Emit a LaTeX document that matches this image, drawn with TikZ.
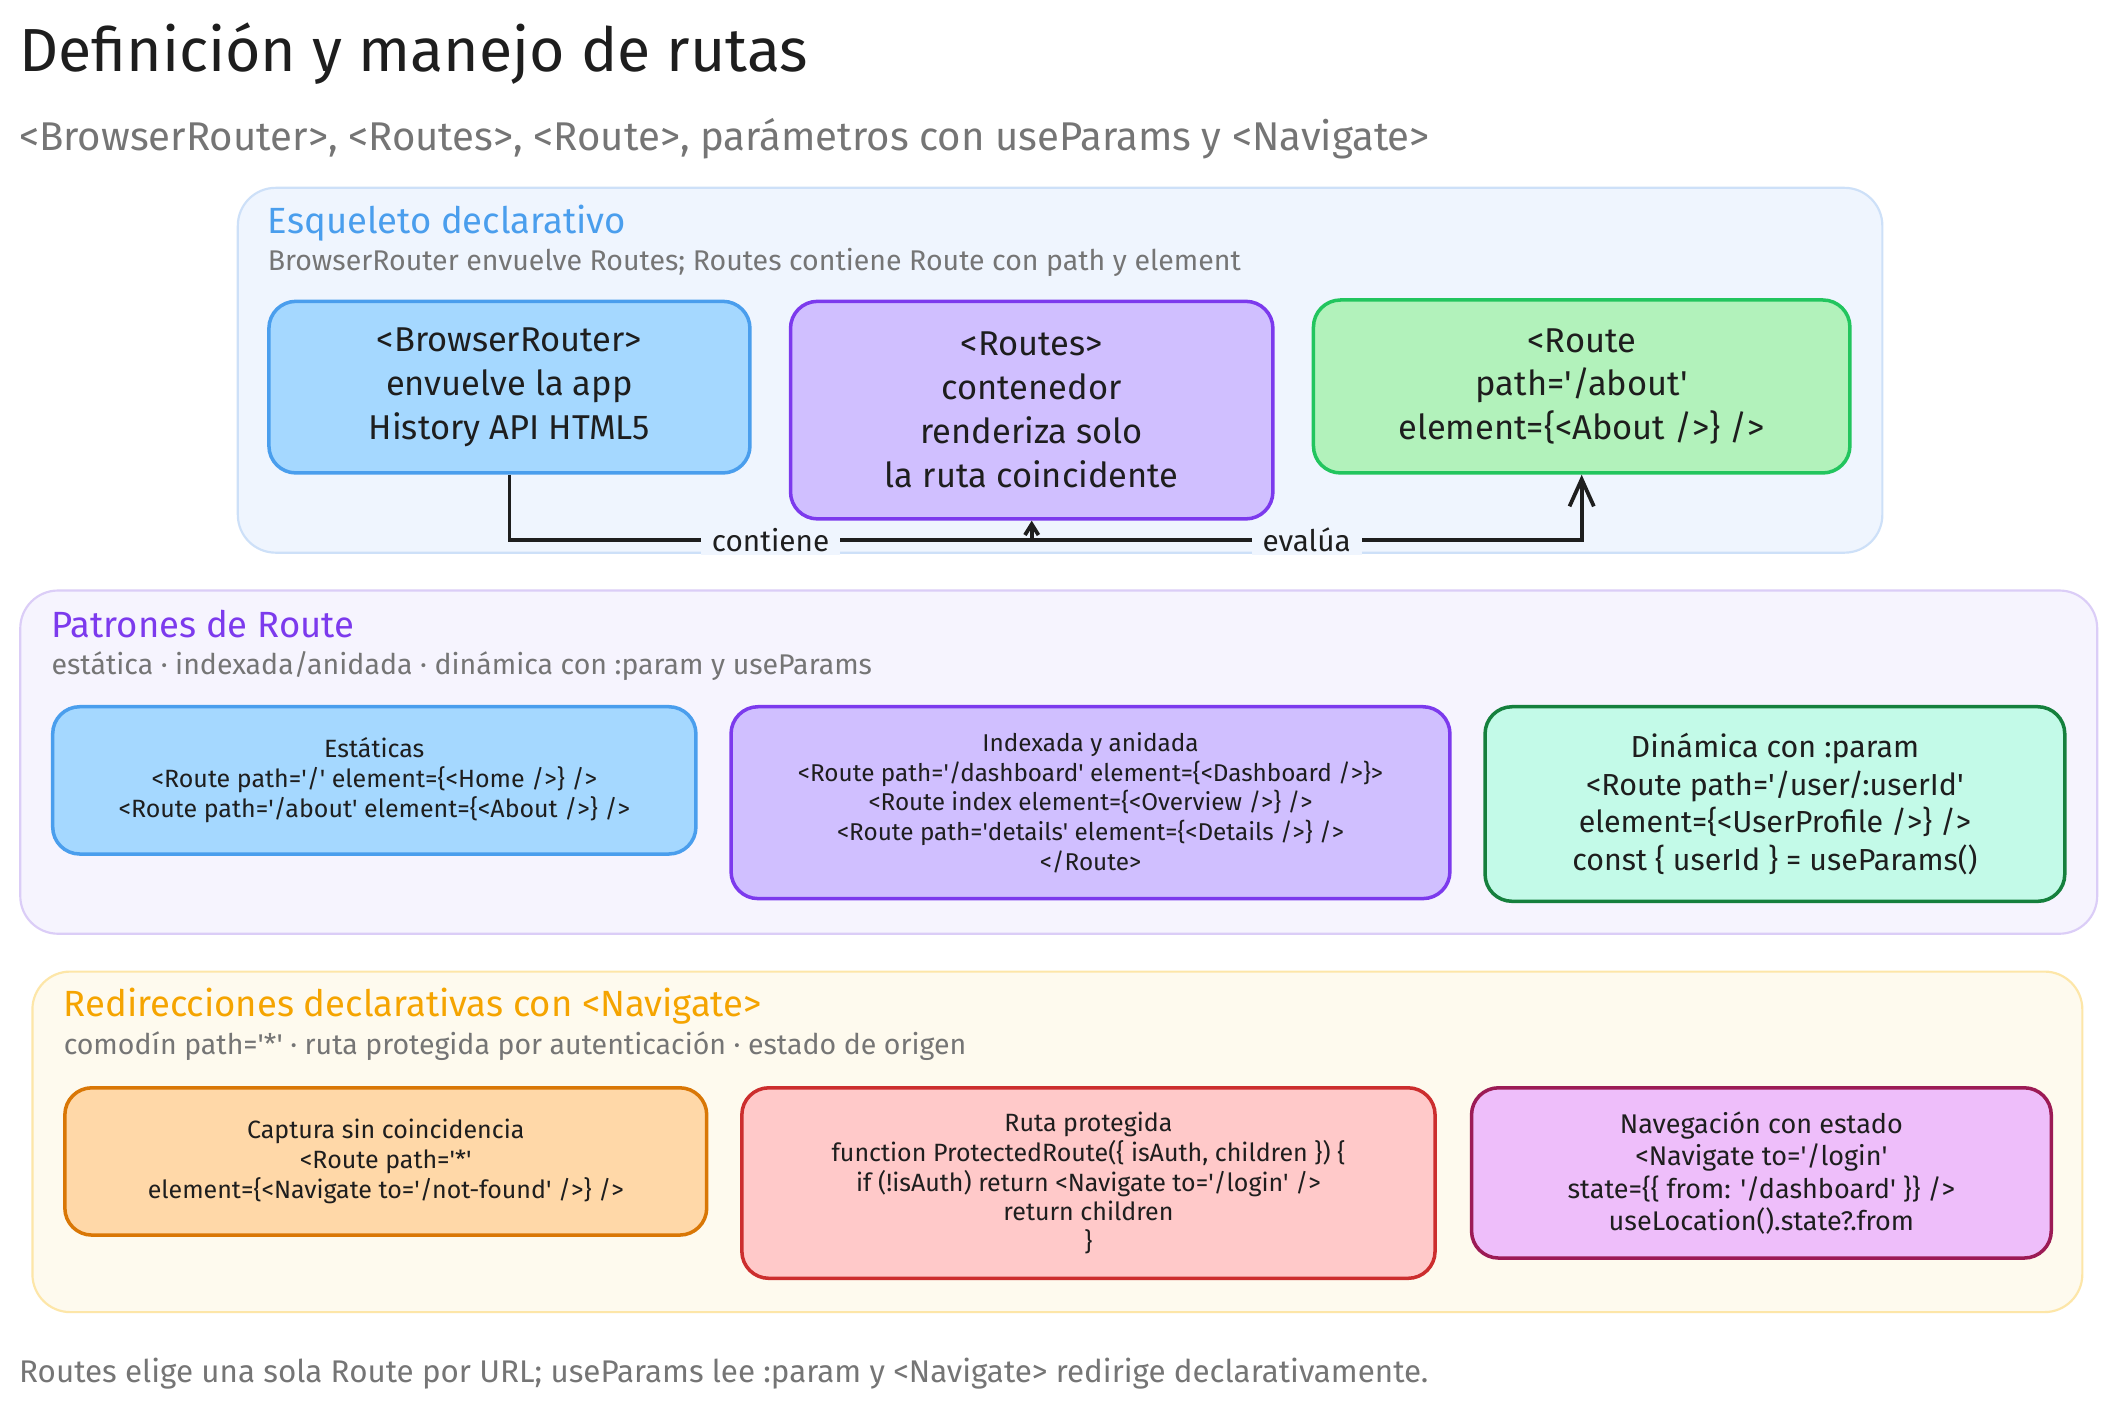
\documentclass[tikz,border=0pt]{standalone}
\usepackage{fontspec}
\setmainfont{Fira Sans}
\usetikzlibrary{arrows.meta,calc}
\newcommand{\sq}{\textquotesingle}
\definecolor{ink}{HTML}{1E1E1E}
\definecolor{muted}{HTML}{757575}
\definecolor{pOneFill}{HTML}{EFF5FE}
\definecolor{pOneLine}{HTML}{CDE0F8}
\definecolor{pTwoFill}{HTML}{F6F4FE}
\definecolor{pTwoLine}{HTML}{DBCDF7}
\definecolor{pThreeFill}{HTML}{FEFAEE}
\definecolor{pThreeLine}{HTML}{FDE6A8}
\definecolor{tBlue}{HTML}{4A9EED}
\definecolor{tPurple}{HTML}{7C3AED}
\definecolor{tOrange}{HTML}{F5A400}
\definecolor{blueFill}{HTML}{A5D8FF}
\definecolor{blueLine}{HTML}{4A9EED}
\definecolor{violetFill}{HTML}{D0BFFF}
\definecolor{violetLine}{HTML}{7C3AED}
\definecolor{greenFill}{HTML}{B2F2BB}
\definecolor{greenLine}{HTML}{22C55E}
\definecolor{mintFill}{HTML}{C3FAE8}
\definecolor{mintLine}{HTML}{15803D}
\definecolor{orangeFill}{HTML}{FFD8A8}
\definecolor{orangeLine}{HTML}{D97706}
\definecolor{redFill}{HTML}{FFC9C9}
\definecolor{redLine}{HTML}{CC2E2E}
\definecolor{pinkFill}{HTML}{EEBEFA}
\definecolor{pinkLine}{HTML}{9C1B55}
\tikzset{
  panelbox/.style={line width=1.6pt, rounded corners=28pt, inner sep=0pt},
  card/.style={line width=2.6pt, rounded corners=20pt, align=center, text=ink, inner sep=0pt},
  bigtxt/.style={font=\fontsize{25.5pt}{32.5pt}\selectfont},
  smalltxt/.style={font=\fontsize{18.5pt}{22pt}\selectfont},
  nesttxt/.style={font=\fontsize{18pt}{22pt}\selectfont},
  midtxt/.style={font=\fontsize{22.5pt}{28pt}\selectfont},
  navtxt/.style={font=\fontsize{20pt}{24pt}\selectfont},
  ptitle/.style={anchor=base west, inner sep=0pt, font=\fontsize{27pt}{32pt}\selectfont},
  psub/.style={anchor=base west, inner sep=0pt, text=muted, font=\fontsize{21.1pt}{26pt}\selectfont},
  conn/.style={draw=ink, line width=2.8pt},
  lbl/.style={fill=pOneFill, text=ink, inner xsep=8pt, inner ysep=2pt, font=\fontsize{22pt}{26pt}\selectfont}
}
\begin{document}
\begin{tikzpicture}[x=1pt,y=-1pt]
\useasboundingbox (0,0) rectangle (1560,1038.3);
\fill[white] (0,0) rectangle (1560,1038.3);

% title
\node[anchor=base west, inner sep=0pt, text=ink, font=\fontsize{45pt}{50pt}\selectfont] (title) at (14,53) {Definición y manejo de rutas};
\node[anchor=base west, inner sep=0pt, text=muted, font=\fontsize{29.7pt}{34pt}\selectfont] (subtitle) at (14,111.5) {<BrowserRouter>, <Routes>, <Route>, parámetros con useParams y <Navigate>};

% panels
\node[panelbox, fill=pOneFill, draw=pOneLine, minimum width=1217pt, minimum height=270pt] (P1) at (784.5,274) {};
\node[panelbox, fill=pTwoFill, draw=pTwoLine, minimum width=1537pt, minimum height=254pt] (P2) at (783.5,564) {};
\node[panelbox, fill=pThreeFill, draw=pThreeLine, minimum width=1517pt, minimum height=252pt] (P3) at (782.5,845) {};

\node[ptitle, text=tBlue] (P1t) at (198,173) {Esqueleto declarativo};
\node[psub] (P1s) at (198,200) {BrowserRouter envuelve Routes; Routes contiene Route con path y element};
\node[ptitle, text=tPurple] (P2t) at (38,472) {Patrones de Route};
\node[psub] (P2s) at (38,499.5) {estática · indexada/anidada · dinámica con :param y useParams};
\node[ptitle, text=tOrange] (P3t) at (47,752.5) {Redirecciones declarativas con <Navigate>};
\node[psub] (P3s) at (47,780) {comodín path=\sq*\sq{} · ruta protegida por autenticación · estado de origen};

% top cards
\node[card, bigtxt, fill=blueFill, draw=blueLine, minimum width=356pt, minimum height=127pt] (A) at (377,286.5)
  {<BrowserRouter>\\ envuelve la app\\ History API HTML5};
\node[card, bigtxt, fill=violetFill, draw=violetLine, minimum width=357pt, minimum height=161pt] (B) at (763.5,303.5)
  {<Routes>\\ contenedor\\ renderiza solo\\ la ruta coincidente};
\node[card, bigtxt, fill=greenFill, draw=greenLine, minimum width=397pt, minimum height=128pt] (C) at (1170.5,286)
  {<Route\\ path=\sq/about\sq\\ element=\{<About />\} />};

% connectors
\coordinate (j) at ([yshift=-14.5pt]B.south);
\draw[conn, -{Straight Barb[length=8pt,width=10pt]}] (A.south) |- node[lbl, pos=0.75] {contiene} (j) -- (B.south);
\draw[conn, -{Straight Barb[length=20pt,width=18pt]}] (j) -| node[lbl, pos=0.25] {evalúa} (C.south);

% middle cards
\node[card, smalltxt, fill=blueFill, draw=blueLine, minimum width=476pt, minimum height=109pt] (D) at (277,577.5)
  {Estáticas\\ <Route path=\sq/\sq{} element=\{<Home />\} />\\ <Route path=\sq/about\sq{} element=\{<About />\} />};
\node[card, nesttxt, fill=violetFill, draw=violetLine, minimum width=532pt, minimum height=142pt] (E) at (807,594)
  {Indexada y anidada\\ <Route path=\sq/dashboard\sq{} element=\{<Dashboard />\}>\\ <Route index element=\{<Overview />\} />\\ <Route path=\sq details\sq{} element=\{<Details />\} />\\ </Route>};
\node[card, midtxt, fill=mintFill, draw=mintLine, minimum width=429pt, minimum height=144pt] (F) at (1313.5,595)
  {Dinámica con :param\\ <Route path=\sq/user/:userId\sq\\ element=\{<UserProfile />\} />\\ const \{ userId \} = useParams()};

% bottom cards
\node[card, smalltxt, fill=orangeFill, draw=orangeLine, minimum width=475pt, minimum height=109pt] (G) at (285.5,859.5)
  {Captura sin coincidencia\\ <Route path=\sq*\sq\\ element=\{<Navigate to=\sq/not-found\sq{} />\} />};
\node[card, smalltxt, fill=redFill, draw=redLine, minimum width=513pt, minimum height=141pt] (H) at (805.5,875.5)
  {Ruta protegida\\ function ProtectedRoute(\{ isAuth, children \}) \{\\ if (!isAuth) return <Navigate to=\sq/login\sq{} />\\ return children\\ \}};
\node[card, navtxt, fill=pinkFill, draw=pinkLine, minimum width=429pt, minimum height=126pt] (I) at (1303.5,868)
  {Navegación con estado\\ <Navigate to=\sq/login\sq\\ state=\{\{ from: \sq/dashboard\sq{} \}\} />\\ useLocation().state?.from};

% footer
\node[anchor=base west, inner sep=0pt, text=muted, font=\fontsize{23.2pt}{28pt}\selectfont] (footer) at (14,1023)
  {Routes elige una sola Route por URL; useParams lee :param y <Navigate> redirige declarativamente.};
\end{tikzpicture}
\end{document}
